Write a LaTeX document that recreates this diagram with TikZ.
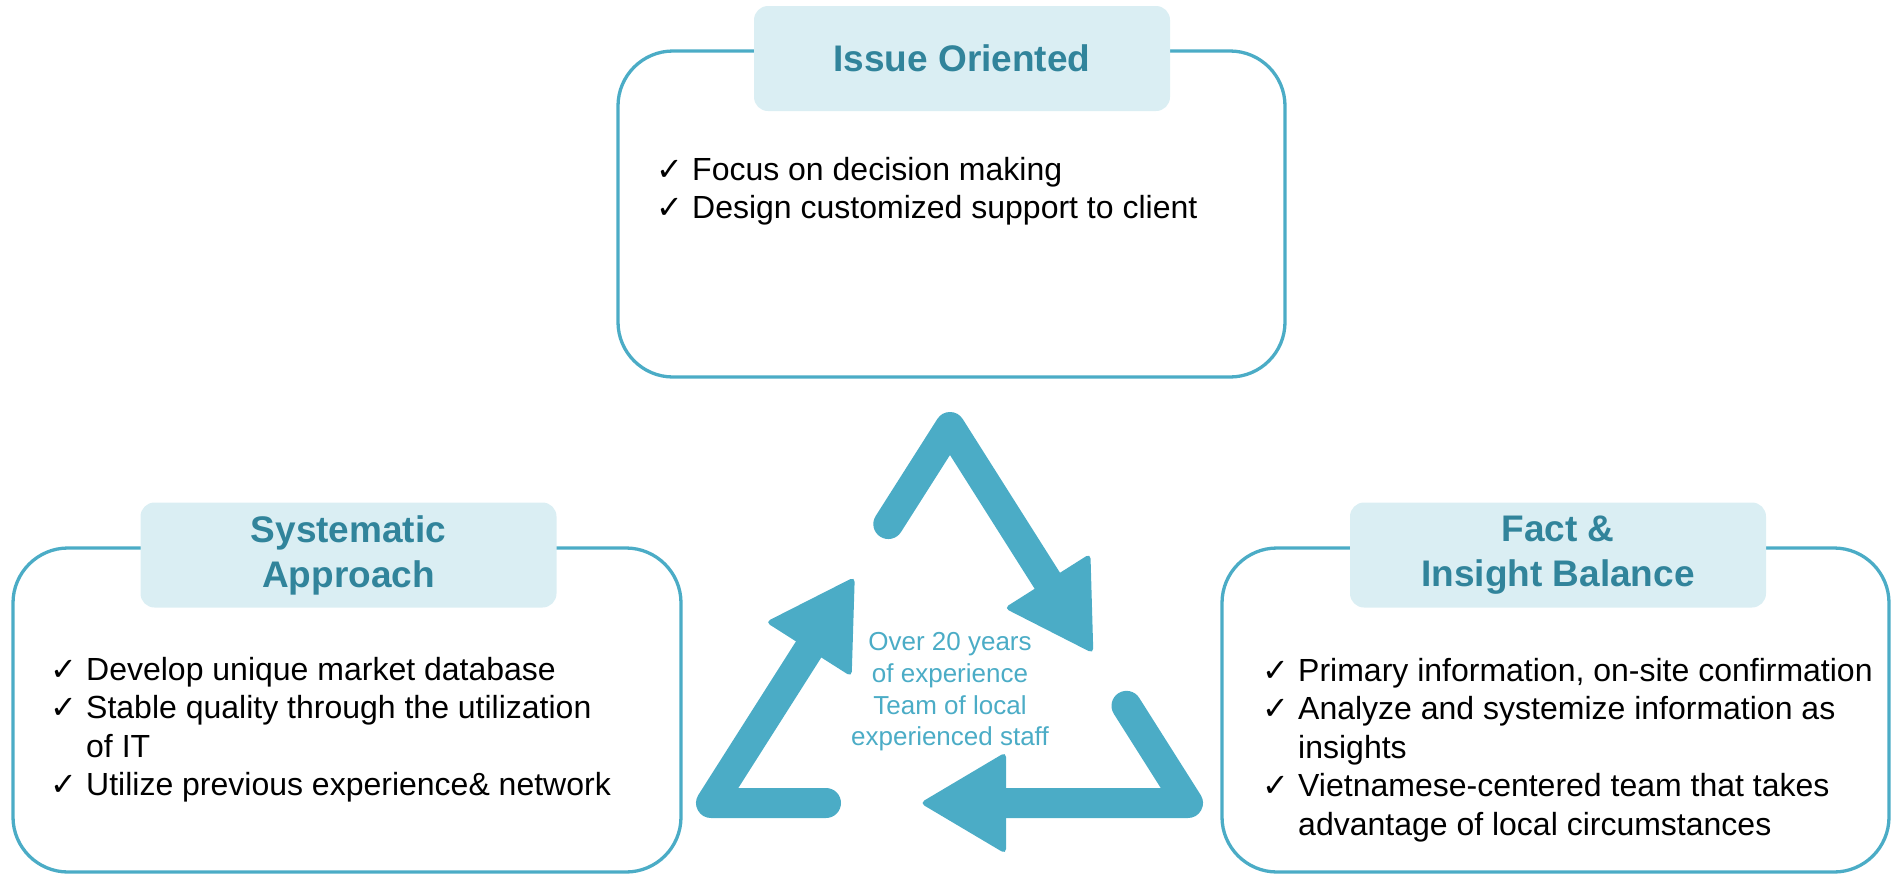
\documentclass[tikz,border=0pt]{standalone}
\usepackage{fontspec}
\setmainfont{Liberation Sans}
\newfontfamily\symfont{DejaVu Sans}
\usetikzlibrary{calc}

\definecolor{aqua}{HTML}{4BACC6}
\definecolor{aquadark}{HTML}{31849B}
\definecolor{aqualight}{HTML}{DAEEF3}

\newcommand{\chk}{\makebox[36pt][l]{\symfont\bfseries\fontsize{32}{32}\selectfont ✓}}

\begin{document}
\begin{tikzpicture}[x=1pt, y=-1pt,
        frame/.style={draw=aqua, line width=3.3pt, rounded corners=55pt, inner sep=0pt},
        header/.style={fill=aqualight, rounded corners=14pt, minimum width=416pt,
            minimum height=105pt, inner sep=0pt, text=aquadark, align=center,
            font=\fontsize{37}{45}\selectfont\bfseries},
        bullets/.style={anchor=base west, inner sep=0pt, font=\fontsize{32}{38.5}\selectfont},
        shaft/.style={draw=aqua, line width=30pt, line cap=round, line join=round},
        head/.style={fill=aqua, rounded corners=5pt}
    ]
    \useasboundingbox (0,0) rectangle (1896,876);

    % frames
    \node[frame, minimum width=667pt, minimum height=326pt] (issueframe) at (951.5,214) {};
    \node[frame, minimum width=668pt, minimum height=324pt] (systemframe) at (347,710) {};
    \node[frame, minimum width=667pt, minimum height=324pt] (factframe) at (1555.5,710) {};

    % headers
    \node[header] (issue) at (962,58.5) {Issue Oriented};
    \node[header] (system) at (348.5,555) {Systematic\\Approach};
    \node[header] (fact) at (1558,555) {Fact \&\\Insight Balance};

    % check lists
    \node[bullets] (issuelist) at (656,180) {\begin{tabular}[t]{@{}l@{}}
            \chk Focus on decision making\\
            \chk Design customized support to client
        \end{tabular}};
    \node[bullets] (systemlist) at (50,680) {\begin{tabular}[t]{@{}l@{}}
            \chk Develop unique market database\\
            \chk Stable quality through the utilization\\
            \hspace*{36pt}of IT\\
            \chk Utilize previous experience\& network
        \end{tabular}};
    \node[bullets] (factlist) at (1262,681) {\begin{tabular}[t]{@{}l@{}}
            \chk Primary information, on-site confirmation\\
            \chk Analyze and systemize information as\\
            \hspace*{36pt}insights\\
            \chk Vietnamese-centered team that takes\\
            \hspace*{36pt}advantage of local circumstances
        \end{tabular}};

    % recycling arrows
    \coordinate (A) at (950,427);
    \coordinate (B) at (1188,803);
    \coordinate (C) at (711,803);
    \foreach \p/\q/\r in {C/A/B, A/B/C, B/C/A} {
        \coordinate (tail) at ($(\q)!115pt!(\p)$);
        \coordinate (base) at ($(\q)!182pt!(\r)$);
        \coordinate (tip) at ($(\q)!268pt!(\r)$);
        \draw[shaft] (tail) -- (\q) -- (base);
        \fill[head] ($(base)!51pt!90:(tip)$) -- (tip) -- ($(base)!51pt!-90:(tip)$) -- cycle;
    }

    \node[text=aqua, align=center, font=\fontsize{26}{31.7}\selectfont] (experience) at (950,692)
        {Over 20 years\\of experience\\Team of local\\experienced staff};
\end{tikzpicture}
\end{document}
